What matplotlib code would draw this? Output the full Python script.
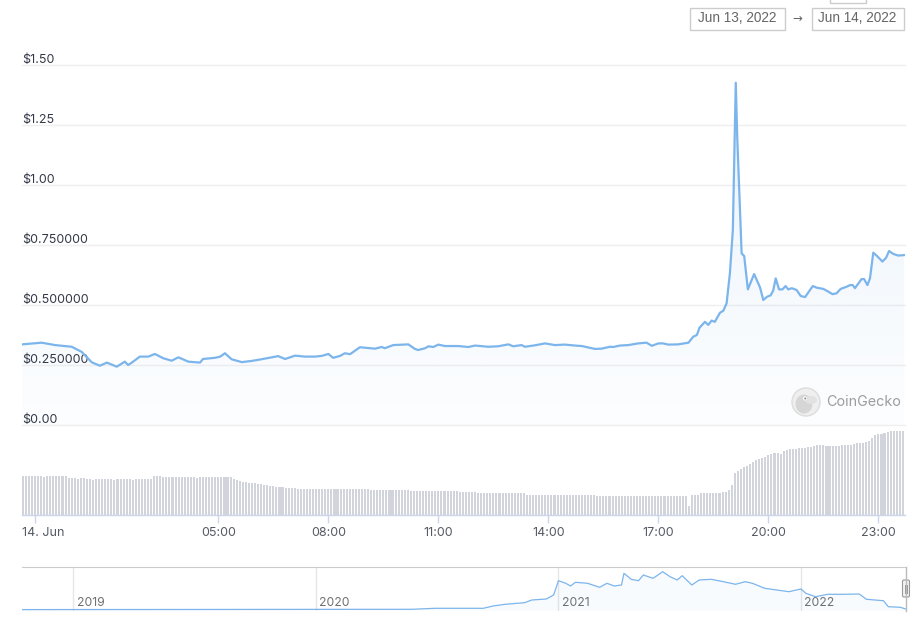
import matplotlib
matplotlib.use("Agg")
import matplotlib.pyplot as plt
import numpy as np
from matplotlib.patches import Rectangle, Circle, Ellipse, FancyBboxPatch

# ---------------- data ----------------
price_hours = [-0.35, 0.18, 0.55, 1.00, 1.27, 1.55, 1.77, 1.96, 2.23, 2.45, 2.54, 2.64, 2.86, 3.09, 3.27,
               3.50, 3.73, 3.91, 4.18, 4.50, 4.58, 4.91, 5.05, 5.18, 5.36, 5.64, 5.91, 6.18, 6.63, 6.82,
               7.09, 7.36, 7.64, 7.82, 8.00, 8.13, 8.32, 8.45, 8.59, 8.86, 9.27, 9.45, 9.54, 9.77, 10.18,
               10.36, 10.45, 10.64, 10.73, 10.86, 11.00, 11.18, 11.54, 11.82, 12.00, 12.36, 12.63, 12.91,
               13.04, 13.27, 13.36, 13.63, 13.91, 14.18, 14.45, 14.73, 14.91, 15.27, 15.45, 15.68, 15.77,
               15.95, 16.18, 16.45, 16.68, 16.82, 17.00, 17.13, 17.27, 17.54, 17.82, 17.95, 18.05, 18.12,
               18.27, 18.36, 18.45, 18.54, 18.68, 18.77, 18.86, 18.95, 19.03, 19.11, 19.15, 19.27, 19.34,
               19.44, 19.61, 19.77, 19.86, 19.97, 20.06, 20.13, 20.20, 20.29, 20.38, 20.47, 20.54, 20.64,
               20.77, 20.88, 21.00, 21.21, 21.32, 21.50, 21.63, 21.75, 21.86, 21.97, 22.13, 22.23, 22.30,
               22.36, 22.54, 22.61, 22.70, 22.77, 22.86, 22.95, 23.11, 23.21, 23.29, 23.41, 23.54, 23.70]
price_usd = [0.336, 0.343, 0.333, 0.326, 0.305, 0.261, 0.247, 0.260, 0.243, 0.264, 0.250, 0.260, 0.285, 0.285, 0.296,
             0.278, 0.268, 0.282, 0.264, 0.260, 0.275, 0.280, 0.285, 0.299, 0.274, 0.262, 0.267, 0.274, 0.287, 0.275,
             0.289, 0.285, 0.285, 0.288, 0.296, 0.280, 0.288, 0.299, 0.295, 0.324, 0.318, 0.325, 0.320, 0.333, 0.336,
             0.317, 0.3125, 0.320, 0.328, 0.325, 0.335, 0.329, 0.329, 0.325, 0.331, 0.326, 0.328, 0.336,
             0.328, 0.333, 0.326, 0.332, 0.340, 0.333, 0.335, 0.331, 0.329, 0.317, 0.318, 0.326, 0.325,
             0.331, 0.333, 0.340, 0.343, 0.330, 0.340, 0.340, 0.335, 0.336, 0.343, 0.368, 0.375, 0.405,
             0.430, 0.417, 0.435, 0.430, 0.468, 0.476, 0.507, 0.632, 0.8125, 1.426, 1.20, 0.715, 0.704,
             0.565, 0.629, 0.574, 0.521, 0.535, 0.540, 0.560, 0.611, 0.565, 0.565, 0.579, 0.565, 0.570,
             0.5625, 0.5375, 0.533, 0.579, 0.572, 0.567, 0.556, 0.545, 0.549, 0.567, 0.576, 0.583, 0.583,
             0.570, 0.608, 0.608, 0.583, 0.611, 0.718, 0.706, 0.681, 0.697, 0.725, 0.7125, 0.706, 0.708]

# volume bars: one per 5 minutes from 23:40 (Jun 13) to 23:40 (Jun 14), relative units
volume_start_hour = -1.0 / 3.0
volume_step_hour = 1.0 / 12.0
volume = [
    39, 39, 39, 39,
    39, 39, 39, 38, 39, 39, 39, 39, 39, 39, 39, 37,
    37, 37, 36, 37, 37, 36, 36, 35, 36, 36, 36, 36,
    36, 36, 35, 36, 36, 36, 36, 36, 35, 36, 36, 36,
    36, 36, 36, 39, 39, 39, 38, 38, 38, 38, 38, 38,
    38, 38, 38, 38, 38, 37, 38, 38, 38, 38, 38, 38,
    38, 38, 38, 38, 38, 36, 35, 34, 33, 33, 32, 32,
    32, 31, 31, 30, 30, 29, 29, 28, 28, 28, 27, 27,
    27, 27, 26, 26, 26, 26, 26, 26, 26, 26, 26, 26,
    26, 26, 26, 26, 26, 26, 26, 26, 26, 26, 26, 26,
    26, 26, 25, 25, 25, 25, 25, 25, 25, 25, 25, 25,
    25, 25, 25, 24, 24, 24, 24, 24, 24, 24, 24, 24,
    24, 24, 24, 24, 24, 24, 24, 23, 23, 23, 23, 23,
    23, 22, 22, 22, 22, 22, 22, 22, 22, 22, 22, 22,
    22, 22, 22, 22, 22, 20, 20, 20, 20, 20, 20, 20,
    20, 20, 20, 20, 20, 20, 20, 20, 20, 20, 20, 20,
    20, 20, 20, 20, 19, 19, 19, 19, 19, 19, 19, 19,
    19, 19, 19, 19, 19, 19, 19, 19, 19, 19, 19, 19,
    19, 19, 19, 19, 19, 19, 19, 19, 19, 19, 9, 20,
    20, 20, 22, 22, 22, 22, 22, 22, 22, 23, 23, 25,
    30, 42, 44, 46, 48, 49, 51, 53, 55, 56, 57, 58,
    60, 61, 62, 62, 61, 64, 65, 66, 66, 66, 67, 67,
    67, 68, 68, 69, 70, 70, 70, 69, 69, 69, 69, 69,
    70, 70, 70, 70, 71, 72, 72, 72, 73, 74, 77, 80,
    81, 81, 82, 83, 84, 84, 84, 84, 84,
]

price_ticks = [0.0, 0.25, 0.5, 0.75, 1.0, 1.25, 1.5]
price_tick_labels = ["$0.00", "$0.250000", "$0.500000", "$0.750000", "$1.00", "$1.25", "$1.50"]
time_ticks = [0, 5, 8, 11, 14, 17, 20, 23]
time_tick_labels = ["14. Jun", "05:00", "08:00", "11:00", "14:00", "17:00", "20:00", "23:00"]

nav_years = [2018.79, 2020.395, 2020.49, 2020.69, 2020.73, 2020.78, 2020.86, 2020.89, 2020.95, 2020.98,
             2021.00, 2021.03, 2021.05, 2021.07, 2021.12, 2021.17, 2021.20, 2021.23, 2021.26, 2021.27,
             2021.30, 2021.33, 2021.35, 2021.39, 2021.43, 2021.46, 2021.49, 2021.51, 2021.55, 2021.58,
             2021.63, 2021.68, 2021.73, 2021.77, 2021.80, 2021.85, 2021.90, 2021.95, 2022.00, 2022.02,
             2022.06, 2022.11, 2022.17, 2022.24, 2022.27, 2022.34, 2022.36, 2022.41, 2022.44]
nav_values = [0.4, 0.7, 1.7, 1.7, 4.0, 5.7, 7.3, 10.0, 11.0, 15.0,
              29.3, 26.7, 24.0, 27.7, 26.7, 22.7, 26.7, 24.0, 25.0, 36.7,
              30.7, 29.3, 35.0, 31.7, 38.3, 33.3, 30.0, 34.3, 25.0, 30.0,
              30.7, 28.3, 25.7, 28.3, 26.7, 21.7, 20.0, 18.3, 21.0, 16.7,
              13.3, 15.7, 15.7, 16.0, 10.7, 9.3, 3.3, 2.7, 0.3]
nav_year_ticks = [2019, 2020, 2021, 2022]
nav_year_labels = ["2019", "2020", "2021", "2022"]
date_from = "Jun 13, 2022"
date_to = "Jun 14, 2022"

# ---------------- layout helpers ----------------
W, H = 917, 629
fig = plt.figure(figsize=(W / 100, H / 100), dpi=100)
fig.patch.set_facecolor("white")
plt.rcParams["font.family"] = ["Inter", "DejaVu Sans"]


def rect(x0, y0, x1, y1):
    return [x0 / W, 1 - y1 / H, (x1 - x0) / W, (y1 - y0) / H]


LINE = "#7cb5ec"
GRID = "#efefef"
LABEL = "#333a47"
TICKC = "#ccd6eb"

XL = (-0.3545, 23.725)

# ---------------- price axes ----------------
ax = fig.add_axes(rect(22, 65, 905, 425))
ax.set_xlim(*XL)
ax.set_ylim(0, 1.5)
for s in ax.spines.values():
    s.set_visible(False)
ax.set_xticks([])
ax.set_yticks([])
ax.patch.set_alpha(0)

for v, lab in zip(price_ticks, price_tick_labels):
    ax.axhline(v, color=GRID, lw=1.0, zorder=0, clip_on=False)
    ax.annotate(lab, xy=(0, v), xycoords=("axes fraction", "data"), xytext=(0, 1.8),
                textcoords="offset points", ha="left", va="baseline", fontsize=9.0,
                color=LABEL, annotation_clip=False)

# gradient fill under the line
poly = ax.fill_between(price_hours, price_usd, 0, color="none", lw=0)
grad = np.linspace(0.02, 0.16, 256).reshape(-1, 1)
rgba = np.zeros((256, 1, 4))
rgba[..., 0] = 124 / 255
rgba[..., 1] = 181 / 255
rgba[..., 2] = 236 / 255
rgba[..., 3] = grad
im = ax.imshow(rgba, extent=[XL[0], XL[1], 0, 1.5], origin="lower", aspect="auto", zorder=1)
path = poly.get_paths()[0]
im.set_clip_path(path, transform=ax.transData)
ax.set_xlim(*XL)
ax.set_ylim(0, 1.5)

ax.plot(price_hours, price_usd, color=LINE, lw=1.6, zorder=3, solid_joinstyle="round")

# ---------------- volume axes ----------------
vax = fig.add_axes(rect(22, 430, 905, 515))
vx = [volume_start_hour + i * volume_step_hour for i in range(len(volume))]
vax.bar(vx, volume, width=volume_step_hour * 0.68, color="#d1d4da", edgecolor="none", zorder=2)
vax.set_xlim(*XL)
vax.set_ylim(0, 85)
for s in vax.spines.values():
    s.set_visible(False)
vax.patch.set_alpha(0)
vax.set_yticks([])
vax.axhline(0, color=TICKC, lw=1.0, zorder=3, clip_on=False)
vax.set_xticks(time_ticks)
vax.set_xticklabels([])
vax.tick_params(axis="x", length=6, width=1, color=TICKC, direction="out", pad=2)
for t, lab in zip(time_ticks, time_tick_labels):
    if t == 0:
        vax.annotate(lab, xy=(XL[0], 0), xycoords="data", xytext=(0, -9), textcoords="offset points",
                     ha="left", va="top", fontsize=9.0, color="#555a64", annotation_clip=False)
    else:
        vax.annotate(lab, xy=(t, 0), xycoords="data", xytext=(0, -9), textcoords="offset points",
                     ha="center", va="top", fontsize=9.0, color="#555a64", annotation_clip=False)

# ---------------- navigator ----------------
nax = fig.add_axes(rect(22, 567, 906, 611))
nax.set_xlim(2018.788, 2022.433)
nax.set_ylim(-1, 43)
for s in nax.spines.values():
    s.set_visible(False)
nax.spines["top"].set_visible(True)
nax.spines["top"].set_color("#cccccc")
nax.set_xticks([])
nax.set_yticks([])
nax.patch.set_alpha(0)
for yv, lab in zip(nav_year_ticks, nav_year_labels):
    nax.axvline(yv, color="#e6e6e6", lw=1.0, zorder=0)
    nax.annotate(lab, xy=(yv, 0), xycoords=("data", "axes fraction"), xytext=(2.5, 1.5),
                 textcoords="offset points", ha="left", va="bottom", fontsize=8.8, color="#707070")
nax.fill_between(nav_years, nav_values, 0, color=LINE, alpha=0.05, lw=0)
nax.plot(nav_years, nav_values, color=LINE, lw=0.9, zorder=3)

# ---------------- overlay (pixel coords) ----------------
ov = fig.add_axes([0, 0, 1, 1])
ov.set_xlim(0, W)
ov.set_ylim(H, 0)
ov.axis("off")
ov.patch.set_alpha(0)

# right vertical edge + handle of navigator
ov.plot([906, 906], [567, 611], color="#bbbbbb", lw=1.0)
ov.add_patch(FancyBboxPatch((902.5, 580), 7, 17, boxstyle="round,pad=0,rounding_size=1.5",
                            fc="#f2f2f2", ec="#999999", lw=0.8))
ov.plot([905, 905], [584.5, 592.5], color="#999999", lw=0.7)
ov.plot([907, 907], [584.5, 592.5], color="#999999", lw=0.7)

# date range boxes
ov.add_patch(Rectangle((689.5, 7.5), 95, 22, fc="white", ec="#cccccc", lw=1.0))
ov.text(737, 18.5, date_from, ha="center", va="center", fontsize=9.8, color="#666666",
        family=["Liberation Sans", "DejaVu Sans"])
ov.text(797, 18.5, "→", ha="center", va="center", fontsize=8.5, color="#666666",
        family=["DejaVu Sans"])
ov.add_patch(Rectangle((811.5, 7.5), 92, 22, fc="white", ec="#cccccc", lw=1.0))
ov.text(857.5, 18.5, date_to, ha="center", va="center", fontsize=9.8, color="#666666",
        family=["Liberation Sans", "DejaVu Sans"])
ov.add_patch(Rectangle((829.5, -10), 36, 12.5, fc="white", ec="#cccccc", lw=1.0, clip_on=False))

# CoinGecko watermark
ov.add_patch(Circle((806, 402), 14, fc="#efefef", ec="#dddddd", lw=1.0))
ov.add_patch(Ellipse((804, 404), 17, 19, fc="#d6d6d6", ec="none"))
ov.add_patch(Ellipse((811, 400), 12, 8, fc="#e2e2e2", ec="none"))
ov.add_patch(Circle((805, 398.5), 2.0, fc="white", ec="none"))
ov.add_patch(Circle((805.3, 398.5), 1.0, fc="#8a8a8a", ec="none"))
ov.text(826, 402, "CoinGecko", ha="left", va="center", fontsize=10.3, color="#9d9d9d")

fig.savefig("out.png", dpi=100, facecolor="white")
